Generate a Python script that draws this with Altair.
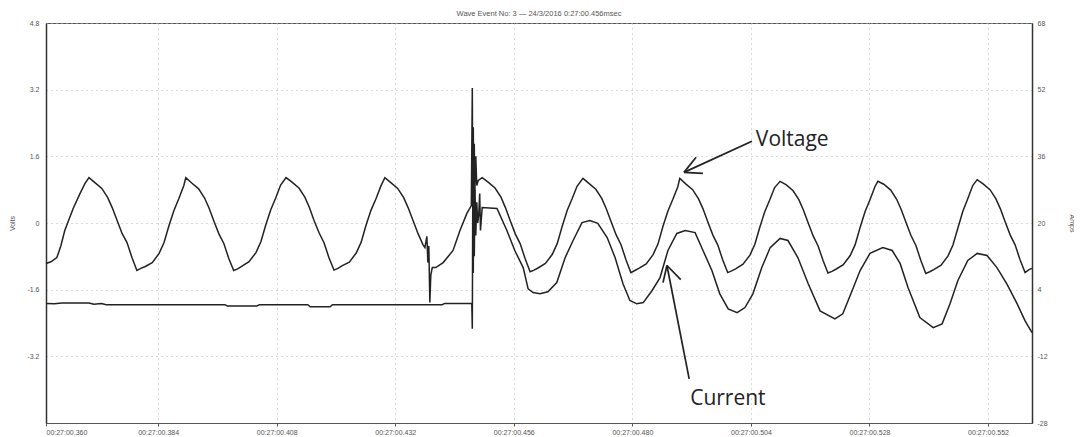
import altair as alt
import pandas as pd

# ---------------- data ----------------
# time axis in milliseconds after 00:27:00
x_tick_ms = [361.3, 384, 408, 432, 456, 480, 504, 528, 552]
volt_ticks = [-3.2, -1.6, 0, 1.6, 3.2, 4.8]
amp_ticks = [-28, -12, 4, 20, 36, 52, 68]

# Voltage (Volts): lead-in before first peak
volt_pre_t = [361.3, 362.3, 363.5, 364.3, 365.1, 366.8, 368.2, 369.2]
volt_pre_v = [-0.97, -0.93, -0.83, -0.55, -0.18, 0.35, 0.71, 0.95]

# phase of each read point relative to the cycle's peak (ms)
volt_phase_ms = [0, 1.2, 2.6, 3.8, 4.7, 5.7, 6.7, 7.7, 8.7, 9.7,
                 10.5, 11.3, 12.8, 14.2, 15.2, 16.2, 17.2, 18.2, 19.2]
volt_peak_ms = [370.0, 389.6, 409.9, 429.9, 449.6, 470.0, 489.6, 509.9, 529.7, 549.8]
volt_cycles = [
    [1.09, 0.97, 0.83, 0.61, 0.37, 0.06, -0.25, -0.47, -0.83, -1.14, -1.09, -1.05, -0.95, -0.73, -0.47, -0.06, 0.30, 0.59, 0.90],
    [1.09, 0.96, 0.82, 0.60, 0.36, 0.04, -0.26, -0.49, -0.85, -1.14, -1.10, -1.04, -0.93, -0.71, -0.45, -0.04, 0.32, 0.60, 0.91],
    [1.09, 0.98, 0.84, 0.62, 0.38, 0.05, -0.24, -0.48, -0.84, -1.13, -1.09, -1.03, -0.94, -0.72, -0.46, -0.05, 0.31, 0.58, 0.89],
    [1.09, 0.97, 0.83, 0.61, 0.37, 0.06, -0.25, -0.52],
    [1.09, 0.98, 0.84, 0.62, 0.37, 0.05, -0.26, -0.50, -0.86, -1.17, -1.13, -1.08, -0.97, -0.75, -0.49, -0.08, 0.30, 0.58, 0.88],
    [1.07, 0.95, 0.81, 0.59, 0.35, 0.03, -0.28, -0.52, -0.88, -1.19, -1.14, -1.09, -0.98, -0.76, -0.50, -0.08, 0.29, 0.57, 0.87],
    [1.07, 0.94, 0.80, 0.58, 0.34, 0.02, -0.29, -0.53, -0.89, -1.19, -1.15, -1.10, -0.99, -0.77, -0.51, -0.10, 0.27, 0.55, 0.85],
    [1.00, 0.92, 0.78, 0.56, 0.32, 0.00, -0.31, -0.55, -0.90, -1.20, -1.16, -1.11, -1.00, -0.78, -0.52, -0.11, 0.27, 0.56, 0.87],
    [1.00, 0.93, 0.79, 0.57, 0.33, 0.01, -0.30, -0.54, -0.90, -1.21, -1.17, -1.12, -1.01, -0.79, -0.53, -0.12, 0.28, 0.58, 0.90],
    [1.04, 0.94, 0.80, 0.58, 0.34, 0.02, -0.29, -0.53, -0.89, -1.19, -1.12],
]
# transients (small one at ~438 ms, switching event at ~448 ms)
volt_event_t = [438.0, 438.4, 438.6, 438.8, 439.0, 439.2, 439.5, 440.2, 441.7, 443.7, 445.1, 446.5, 447.4,
                447.6, 447.7, 447.8, 447.9, 448.0, 448.1, 448.3, 448.5, 448.8]
volt_event_v = [-0.59, -0.32, -0.95, -0.55, -1.91, -1.25, -1.07, -1.07, -0.95, -0.66, -0.18, 0.23, 0.42,
                3.24, 0.30, 2.30, 0.50, 1.90, 0.70, 1.60, 0.90, 1.02]
volt_end_t = [560.9]
volt_end_v = [-1.09]

# Current (Amps)
cur_t = [361.3, 363.0, 364.5, 370.0, 371.0, 372.5, 373.5, 397.5, 398.0, 404.0, 404.5, 414.3, 414.8,
         418.8, 419.3, 441.5, 442.0, 447.4,
         447.5, 447.6, 447.7, 447.8, 447.9, 448.0, 448.15, 448.3, 448.5, 448.7, 448.9, 449.1, 449.25,
         449.6, 452.6, 454.6, 456.2, 457.9, 458.9, 459.9, 461.3, 462.9, 464.7, 466.4, 468.0, 469.8,
         471.4, 473.0, 474.9, 476.5, 478.1, 479.5, 480.9, 482.2, 484.0, 485.6, 487.2, 489.0, 490.7,
         492.7, 494.3, 496.1, 497.7, 499.4, 501.2, 502.8, 504.4, 506.2, 507.9, 509.9, 511.5, 513.5,
         515.6, 518.0, 521.0, 522.6, 524.5, 526.1, 528.1, 530.7, 532.6, 534.2, 535.8, 538.2, 540.9,
         542.7, 544.3, 545.9, 547.9, 549.8, 551.8, 553.8, 555.8, 557.9, 559.5, 560.9]
cur_a = [0.7, 0.6, 0.8, 0.8, 0.5, 0.7, 0.4, 0.4, 0.1, 0.1, 0.4, 0.4, -0.1,
         -0.1, 0.4, 0.4, 0.7, 0.7,
         0.4, -5.4, 30.0, 8.0, 34.0, 12.0, 28.0, 17.0, 25.0, 20.0, 22.0, 27.1, 18.2,
         23.7, 23.5, 18.2, 13.4, 9.3, 4.2, 3.3, 3.0, 3.5, 5.7, 11.7, 15.8, 20.1,
         20.6, 19.9, 16.5, 11.7, 5.4, 1.4, 0.6, 0.9, 3.8, 6.9, 13.4, 17.5, 18.2,
         17.7, 13.4, 8.6, 3.0, -0.6, -1.5, -0.3, 3.0, 9.3, 14.1, 16.3, 15.8, 11.7,
         5.4, -1.1, -3.0, -1.8, 3.8, 8.6, 12.7, 14.1, 13.4, 10.3, 4.5, -2.7, -5.1,
         -4.2, 0.6, 6.2, 11.0, 12.7, 12.2, 9.3, 5.4, 0.6, -3.5, -6.3]

# annotations (in time / volts units)
label_text = ["Voltage", "Current"]
label_t = [505.0, 491.7]
label_v = [1.99, -4.22]
arrow_t = [504.2, 490.45, 490.45, 491.5, 487.0, 487.0]
arrow_v = [1.96, 1.215, 1.215, -3.74, -1.02, -1.02]
arrow_t2 = [490.45, 494.3, 492.9, 487.0, 486.2, 489.8]
arrow_v2 = [1.215, 1.19, 1.58, -1.02, -1.43, -1.36]

# ---------------- build tables ----------------
vt, vv = list(volt_pre_t), list(volt_pre_v)
for peak, vals in zip(volt_peak_ms, volt_cycles):
    for ph, val in zip(volt_phase_ms, vals):
        vt.append(round(peak + ph, 2))
        vv.append(val)
vt += volt_event_t + volt_end_t
vv += volt_event_v + volt_end_v
volt_df = pd.DataFrame({"t": vt, "v": vv}).sort_values("t")
cur_df = pd.DataFrame({"t": cur_t, "a": cur_a})
lab_df = pd.DataFrame({"t": label_t, "v": label_v, "txt": label_text})
arr_df = pd.DataFrame({"t": arrow_t, "v": arrow_v, "t2": arrow_t2, "v2": arrow_v2})

FONT = "Liberation Sans"
GREY = "#555"
GRID = "#b4b4b4"
xs = alt.Scale(domain=[361.3, 560.9], nice=False, zero=False)
vs = alt.Scale(domain=[-4.8, 4.8], nice=False, zero=False)
as_ = alt.Scale(domain=[-28, 68], nice=False, zero=False)

x_axis = alt.Axis(
    values=x_tick_ms,
    labelExpr="datum.value < 370 ? '00:27:00.360' : '00:27:00.' + format(datum.value, 'd')",
    grid=True, gridColor=GRID, gridDash=[1, 4], gridWidth=1,
    tickSize=3, tickColor=GREY, domainColor=GREY, domainWidth=1.2,
    labelFontSize=7, labelColor=GREY, labelFont=FONT, labelPadding=2, title=None,
)
v_axis = alt.Axis(
    values=volt_ticks, labelExpr="'' + datum.value",
    grid=True, gridColor=GRID, gridDash=[1, 4], gridWidth=1,
    tickSize=0, domainColor="#333", domainWidth=1.5,
    labelFontSize=7, labelColor=GREY, labelFont=FONT, labelPadding=7,
    title="Volts", titleFontSize=7, titleFont=FONT, titleFontWeight="normal", titleColor=GREY,
    titleX=-34, titleY=200, titleAngle=-90, titleAlign="center", titleBaseline="middle",
)
a_axis = alt.Axis(
    orient="right", values=amp_ticks, labelExpr="'' + datum.value",
    grid=False, tickSize=0, domainColor="#333", domainWidth=1.5,
    labelFontSize=7, labelColor=GREY, labelFont=FONT, labelPadding=5,
    title="Amps", titleFontSize=7, titleFont=FONT, titleFontWeight="normal", titleColor=GREY,
    titleX=39, titleY=200, titleAngle=90, titleAlign="center", titleBaseline="middle",
)

volt = alt.Chart(volt_df).mark_line(color="#222", strokeWidth=1.5).encode(
    x=alt.X("t:Q", scale=xs, axis=x_axis),
    y=alt.Y("v:Q", scale=vs, axis=v_axis),
)
arrows = alt.Chart(arr_df).mark_rule(color="#222", strokeWidth=1.7).encode(
    x=alt.X("t:Q", scale=xs, axis=x_axis),
    y=alt.Y("v:Q", scale=vs, axis=v_axis),
    x2="t2:Q", y2="v2:Q",
)
labels = alt.Chart(lab_df).mark_text(
    align="left", baseline="middle", font="Open Sans", fontSize=21, color="#222"
).encode(
    x=alt.X("t:Q", scale=xs, axis=x_axis),
    y=alt.Y("v:Q", scale=vs, axis=v_axis),
    text="txt:N",
)
cur = alt.Chart(cur_df).mark_line(color="#222", strokeWidth=1.5).encode(
    x=alt.X("t:Q", scale=xs, axis=x_axis),
    y=alt.Y("a:Q", scale=as_, axis=a_axis),
)

left = alt.layer(volt, arrows, labels)
chart = alt.layer(left, cur).resolve_scale(y="independent").properties(
    width=986, height=400,
    autosize=alt.AutoSizeParams(type="none"),
    padding={"left": 38, "top": 15, "right": 42, "bottom": 14},
    title=alt.TitleParams(
        "Wave Event No: 3 — 24/3/2016 0:27:00.456msec",
        fontSize=7.5, font=FONT, fontWeight="normal", color=GREY, offset=2, anchor="middle",
    ),
).configure_view(stroke="#555", strokeWidth=1)

chart.save("out.html", embed_options={"renderer": "svg", "actions": False})
